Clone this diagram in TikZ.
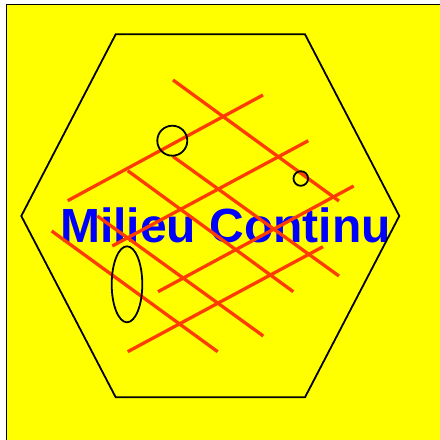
\documentclass[tikz,border=0pt]{standalone}
\usepackage{fontspec}
\setmainfont{Liberation Sans}
\definecolor{bgyellow}{RGB}{255,255,0}
\definecolor{gridred}{RGB}{255,60,0}
\definecolor{txtblue}{RGB}{0,0,255}
\begin{document}
\begin{tikzpicture}[x=1pt,y=-1pt,
  frame/.style={draw=black,line width=1.8pt},
  hexline/.style={draw=black,line width=1.8pt,line join=miter},
  redline/.style={draw=gridred,line width=3.3pt},
  poreline/.style={draw=black,line width=1.8pt},
  title/.style={text=txtblue,font=\bfseries\fontsize{48}{48}\selectfont,inner sep=0pt,anchor=base west}]
\useasboundingbox (0,0) rectangle (440,440);
\clip (0,0) rectangle (440,440);
% background
\fill[bgyellow] (6.5,4.5) rectangle (460,460);
\draw[frame] (6.5,460) -- (6.5,4.5) -- (460,4.5);
% text
\node[title] (t) at (60,242.7) {Milieu Continu};
% hexagon
\coordinate (h1) at (115.7,34.3);
\coordinate (h2) at (305,34.3);
\coordinate (h3) at (399.3,216);
\coordinate (h4) at (305,397.3);
\coordinate (h5) at (115.7,397.3);
\coordinate (h6) at (21.3,216);
\draw[hexline] (h1) -- (h2) -- (h3) -- (h4) -- (h5) -- (h6) -- cycle;
% red lines, rising
\coordinate (a1) at (67.7,200.7);  \coordinate (b1) at (263,95);
\coordinate (a2) at (112.3,246);   \coordinate (b2) at (308.3,140.7);
\coordinate (a3) at (158,291.7);   \coordinate (b3) at (353.7,186);
\coordinate (a4) at (127.7,351.7); \coordinate (b4) at (323,246.7);
\draw[redline] (a1) -- (b1);
\draw[redline] (a2) -- (b2);
\draw[redline] (a3) -- (b3);
\draw[redline] (a4) -- (b4);
% red lines, falling
\coordinate (c1) at (173,80);      \coordinate (d1) at (339,201);
\coordinate (c2) at (173,156.5);   \coordinate (d2) at (339,276);
\coordinate (c3) at (127.7,170.7); \coordinate (d3) at (293.3,291.7);
\coordinate (c4) at (97.3,216);    \coordinate (d4) at (263.3,336);
\coordinate (c5) at (51.7,231);    \coordinate (d5) at (217.7,351.7);
\draw[redline] (c1) -- (d1);
\draw[redline] (c2) -- (d2);
\draw[redline] (c3) -- (d3);
\draw[redline] (c4) -- (d4);
\draw[redline] (c5) -- (d5);
% pores
\draw[poreline] (172.3,140.7) circle[radius=15];
\draw[poreline] (300.8,178.5) circle[radius=7.3];
\draw[poreline] (127,284.3) ellipse[x radius=15.3,y radius=38];
\end{tikzpicture}
\end{document}
